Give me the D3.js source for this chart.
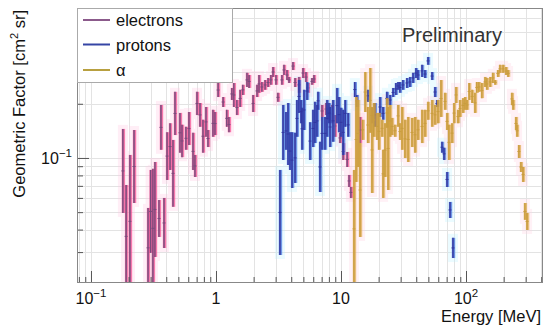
<!DOCTYPE html>
<html>
<head>
<meta charset="utf-8">
<script src="https://cdn.jsdelivr.net/npm/d3@7"></script>
<style>
body { margin: 0; background: #fff; }
svg text { font-family: "Liberation Sans", Arial, Helvetica, sans-serif; }
</style>
</head>
<body>
<svg id="chart" width="550" height="329"></svg>
<script>
// ---- data: energy [MeV], upper and lower edge of each error bar [cm^2 sr]
var eEnergy = [0.180, 0.191, 0.205, 0.221, 0.286, 0.300, 0.313, 0.325, 0.350, 0.363, 0.384, 0.406, 0.429, 0.453, 0.470,
  0.515, 0.535, 0.575, 0.608, 0.655, 0.679, 0.705, 0.745, 0.787, 0.832, 0.863, 0.946, 0.982, 1.04, 1.14, 1.22, 1.27,
  1.34, 1.39, 1.47, 1.56, 1.64, 1.77, 1.84, 1.98, 2.13, 2.21, 2.33, 2.47, 2.61, 2.75, 2.86, 3.02, 3.13, 3.37, 3.50,
  3.70, 3.84, 4.13, 4.29, 4.61, 4.97, 5.25, 5.44, 5.86, 6.08, 7.05, 7.59, 7.87, 8.47, 8.95, 9.82, 10.4, 11.2, 11.6,
  12.0, 14.2];
var eUpper = [0.145, 0.0708, 0.104, 0.143, 0.0528, 0.0858, 0.087, 0.095, 0.0584, 0.197, 0.060, 0.139, 0.156, 0.126, 0.233,
  0.178, 0.153, 0.149, 0.180, 0.138, 0.104, 0.233, 0.202, 0.163, 0.192, 0.143, 0.185, 0.180, 0.261, 0.218, 0.185, 0.169,
  0.245, 0.261, 0.210, 0.239, 0.255, 0.297, 0.289, 0.224, 0.255, 0.289, 0.264, 0.271, 0.278, 0.289, 0.320, 0.289, 0.230,
  0.289, 0.329, 0.308, 0.282, 0.341, 0.278, 0.282, 0.316, 0.300, 0.261, 0.278, 0.289, 0.197, 0.202, 0.190, 0.197, 0.173,
  0.138, 0.121, 0.108, 0.0805, 0.069, 0.169];
var eLower = [0.0495, 0.019, 0.019, 0.0562, 0.019, 0.0297, 0.019, 0.0282, 0.0364, 0.111, 0.0316, 0.0755, 0.0858, 0.0535, 0.134,
  0.107, 0.101, 0.111, 0.118, 0.0858, 0.0784, 0.173, 0.149, 0.107, 0.131, 0.115, 0.131, 0.134, 0.218, 0.192, 0.149, 0.139,
  0.210, 0.192, 0.173, 0.192, 0.224, 0.248, 0.245, 0.180, 0.218, 0.230, 0.233, 0.239, 0.248, 0.255, 0.282, 0.255, 0.205,
  0.255, 0.289, 0.271, 0.261, 0.308, 0.248, 0.230, 0.278, 0.264, 0.230, 0.255, 0.261, 0.169, 0.173, 0.163, 0.156, 0.131,
  0.121, 0.0975, 0.0891, 0.069, 0.060, 0.121];

var pEnergy = [3.25, 3.44, 3.63, 3.77, 3.91, 4.06, 4.29, 4.44, 4.61, 4.79, 4.88, 5.06, 5.35, 5.65, 5.97, 6.19, 6.43, 6.55,
  6.79, 7.05, 7.45, 7.73, 8.02, 8.17, 8.63, 9.29, 9.64, 10.0, 10.4, 10.8, 11.4, 12.9, 13.4, 16.4, 17.7, 18.7, 20.5, 21.7,
  23.3, 24.7, 26.1, 27.5, 28.6, 29.6, 31.3, 33.7, 35.6, 37.7, 39.8, 41.3, 44.5, 47.0, 49.7, 53.5, 56.5, 58.6, 64.3, 66.7,
  70.5, 74.5, 78.7];
var pUpper = [0.0858, 0.197, 0.180, 0.202, 0.139, 0.139, 0.138, 0.210, 0.271, 0.210, 0.190, 0.239, 0.264, 0.158, 0.185,
  0.205, 0.197, 0.233, 0.123, 0.169, 0.169, 0.210, 0.202, 0.192, 0.210, 0.245, 0.218, 0.190, 0.185, 0.210, 0.178, 0.264,
  0.224, 0.239, 0.190, 0.202, 0.218, 0.192, 0.233, 0.224, 0.245, 0.261, 0.264, 0.264, 0.271, 0.278, 0.282, 0.297, 0.316,
  0.308, 0.329, 0.308, 0.364, 0.300, 0.248, 0.210, 0.123, 0.114, 0.0836, 0.0570, 0.0360];
var pLower = [0.0289, 0.0975, 0.111, 0.0914, 0.0858, 0.0681, 0.0726, 0.131, 0.178, 0.156, 0.111, 0.143, 0.210, 0.0975, 0.115,
  0.121, 0.131, 0.185, 0.0647, 0.111, 0.111, 0.131, 0.156, 0.115, 0.123, 0.156, 0.139, 0.131, 0.104, 0.149, 0.131, 0.218,
  0.192, 0.205, 0.156, 0.149, 0.169, 0.163, 0.197, 0.197, 0.218, 0.224, 0.239, 0.230, 0.239, 0.245, 0.248, 0.261, 0.278,
  0.271, 0.282, 0.278, 0.329, 0.271, 0.218, 0.192, 0.107, 0.0975, 0.069, 0.0464, 0.0278];

var aEnergy = [12.7, 13.2, 13.7, 14.2, 14.9, 15.6, 16.4, 17.1, 17.7, 18.3, 19.4, 20.1, 21.3, 21.7, 22.5, 23.3, 23.8, 24.7,
  25.6, 27.0, 28.6, 29.6, 30.8, 32.5, 34.4, 37.0, 39.1, 41.3, 44.5, 47.0, 49.7, 53.5, 56.5, 59.7, 63.1, 67.9, 70.5, 73.0,
  77.3, 80.2, 83.2, 86.3, 89.5, 94.6, 98.2, 102, 106, 112, 118, 122, 127, 134, 142, 147, 156, 164, 171, 180, 187, 198,
  209, 217, 233, 238, 251, 256, 265, 275, 286, 296, 308];
var aUpper = [0.0858, 0.218, 0.210, 0.121, 0.163, 0.300, 0.192, 0.316, 0.192, 0.202, 0.178, 0.178, 0.163, 0.111, 0.156,
  0.215, 0.192, 0.197, 0.167, 0.153, 0.197, 0.156, 0.192, 0.163, 0.169, 0.167, 0.169, 0.163, 0.185, 0.185, 0.205, 0.210,
  0.197, 0.210, 0.271, 0.230, 0.178, 0.153, 0.156, 0.202, 0.248, 0.185, 0.210, 0.215, 0.218, 0.210, 0.261, 0.239, 0.230,
  0.264, 0.264, 0.261, 0.282, 0.278, 0.282, 0.297, 0.271, 0.308, 0.329, 0.329, 0.320, 0.308, 0.230, 0.210, 0.169, 0.153,
  0.118, 0.0950, 0.0891, 0.0562, 0.0495];
var aLower = [0.019, 0.0736, 0.0891, 0.0364, 0.126, 0.180, 0.121, 0.138, 0.0639, 0.131, 0.126, 0.111, 0.131, 0.060, 0.0784,
  0.147, 0.0664, 0.131, 0.134, 0.131, 0.149, 0.126, 0.111, 0.100, 0.095, 0.115, 0.107, 0.126, 0.121, 0.131, 0.163, 0.149,
  0.153, 0.156, 0.169, 0.185, 0.143, 0.0975, 0.121, 0.156, 0.202, 0.156, 0.169, 0.178, 0.185, 0.185, 0.210, 0.202, 0.178,
  0.230, 0.233, 0.215, 0.248, 0.239, 0.248, 0.261, 0.255, 0.282, 0.297, 0.297, 0.289, 0.282, 0.197, 0.185, 0.143, 0.131,
  0.100, 0.0836, 0.0736, 0.0453, 0.0398];

var seriesNames = ["electrons", "protons", "\u03b1"];
var xMajor = [0.1, 1, 10, 100];
var xLabelBase = ["10", "1", "10", "10"];
var xLabelExp = ["\u22121", "", "", "2"];
var yMajor = [0.1];
var yLabelBase = ["10"];
var yLabelExp = ["\u22121"];

// ---- layout
var frame = {x0: 77, x1: 543, y0: 8, y1: 283};
var x = d3.scaleLog().domain([0.0773, 413]).range([frame.x0, frame.x1]);
var y = d3.scaleLog().domain([0.0202, 0.681]).range([frame.y1, frame.y0]);

var styles = [
  {halo: "#ffc8e4", box: "#f23a84", line: "#7a4a7c", legend: "#8b5a8b"},
  {halo: "#c0f2ff", box: "#2f63d8", line: "#3236a0", legend: "#3545a5"},
  {halo: "#ffd3e3", box: "#dca23c", line: "#c99d3e", legend: "#b8a040"}
];

function zip(en, up, lo) {
  return en.map(function (e, i) { return {e: e, hi: up[i], lo: lo[i]}; });
}
var series = [zip(eEnergy, eUpper, eLower), zip(pEnergy, pUpper, pLower), zip(aEnergy, aUpper, aLower)];

var svg = d3.select("#chart");
svg.append("rect").attr("width", 550).attr("height", 329).attr("fill", "#fff");

svg.append("clipPath").attr("id", "plotclip").append("rect")
  .attr("x", frame.x0).attr("y", frame.y0)
  .attr("width", frame.x1 - frame.x0).attr("height", frame.y1 - frame.y0);

// grid
var grid = svg.append("g").attr("stroke", "#e3e3e3").attr("stroke-width", 1);
grid.selectAll(".gx").data(x.ticks()).enter().append("line")
  .attr("x1", function (d) { return Math.round(x(d)) + 0.5; })
  .attr("x2", function (d) { return Math.round(x(d)) + 0.5; })
  .attr("y1", frame.y0).attr("y2", frame.y1);
grid.selectAll(".gy").data(y.ticks()).enter().append("line")
  .attr("y1", function (d) { return Math.round(y(d)) + 0.5; })
  .attr("y2", function (d) { return Math.round(y(d)) + 0.5; })
  .attr("x1", frame.x0).attr("x2", frame.x1);

var plot = svg.append("g").attr("clip-path", "url(#plotclip)");

// soft halos first, for all series
series.forEach(function (pts, s) {
  plot.append("g").attr("fill", styles[s].halo).attr("opacity", 0.3)
    .selectAll("rect").data(pts).enter().append("rect")
    .attr("x", function (d) { return x(d.e) - 5; })
    .attr("width", 10)
    .attr("y", function (d) { return y(d.hi) - 4; })
    .attr("height", function (d) { return y(d.lo) - y(d.hi) + 8; });
});

// error boxes and bars
series.forEach(function (pts, s) {
  var g = plot.append("g");
  g.selectAll(".box").data(pts).enter().append("rect")
    .attr("fill", styles[s].box).attr("opacity", 0.65)
    .attr("x", function (d) { return x(d.e) - 1.2; })
    .attr("width", 3.4)
    .attr("y", function (d) { return y(d.hi); })
    .attr("height", function (d) { return y(d.lo) - y(d.hi); });
  g.selectAll(".bar").data(pts).enter().append("line")
    .attr("stroke", styles[s].line).attr("stroke-width", 1.5)
    .attr("x1", function (d) { return x(d.e); })
    .attr("x2", function (d) { return x(d.e); })
    .attr("y1", function (d) { return y(d.hi); })
    .attr("y2", function (d) { return y(d.lo); });
  g.selectAll(".mk").data(pts).enter().append("line")
    .attr("stroke", styles[s].line).attr("stroke-width", 1)
    .attr("x1", function (d) { return x(d.e) - 1.5; })
    .attr("x2", function (d) { return x(d.e) + 1.5; })
    .attr("y1", function (d) { return y(Math.sqrt(d.hi * d.lo)); })
    .attr("y2", function (d) { return y(Math.sqrt(d.hi * d.lo)); });
});

// axes (ticks inside the frame)
function isMajor(v) { return Math.abs(Math.log10(v) - Math.round(Math.log10(v))) < 1e-6; }
var axisColor = "#555";
function styleAxis(g) {
  g.selectAll("path").remove();
  g.selectAll("line").attr("stroke", axisColor);
}
svg.append("g").attr("transform", "translate(0," + frame.y1 + ")")
  .call(d3.axisBottom(x).tickValues(x.ticks().filter(function (v) { return !isMajor(v); }))
    .tickSize(-6).tickFormat(""))
  .call(styleAxis);
svg.append("g").attr("transform", "translate(0," + frame.y1 + ")")
  .call(d3.axisBottom(x).tickValues(xMajor).tickSize(-12).tickFormat(""))
  .call(styleAxis);
svg.append("g").attr("transform", "translate(" + frame.x0 + ",0)")
  .call(d3.axisLeft(y).tickValues(y.ticks().filter(function (v) { return !isMajor(v); }))
    .tickSize(-6).tickFormat(""))
  .call(styleAxis);
svg.append("g").attr("transform", "translate(" + frame.x0 + ",0)")
  .call(d3.axisLeft(y).tickValues(yMajor).tickSize(-12).tickFormat(""))
  .call(styleAxis);

svg.append("rect")
  .attr("x", frame.x0 + 0.5).attr("y", frame.y0 + 0.5)
  .attr("width", frame.x1 - frame.x0 - 1).attr("height", frame.y1 - frame.y0 - 1)
  .attr("fill", "none").attr("stroke", "#888").attr("stroke-width", 1);

// tick labels
xMajor.forEach(function (v, i) {
  var t = svg.append("text").attr("x", x(v)).attr("y", 304)
    .attr("text-anchor", "middle").attr("font-size", 16).attr("fill", "#111");
  t.append("tspan").text(xLabelBase[i]);
  if (xLabelExp[i]) t.append("tspan").attr("font-size", 11.5).attr("dy", -7).text(xLabelExp[i]);
});
yMajor.forEach(function (v, i) {
  var t = svg.append("text").attr("x", 72).attr("y", y(v) + 6)
    .attr("text-anchor", "end").attr("font-size", 16).attr("fill", "#111");
  t.append("tspan").text(yLabelBase[i]);
  if (yLabelExp[i]) t.append("tspan").attr("font-size", 11.5).attr("dy", -7).text(yLabelExp[i]);
});

// axis titles
svg.append("text").attr("x", 541).attr("y", 322).attr("text-anchor", "end")
  .attr("font-size", 16.5).attr("fill", "#111").text("Energy [MeV]");
var yt = svg.append("text").attr("transform", "translate(25,10) rotate(-90)")
  .attr("text-anchor", "end").attr("font-size", 16.5).attr("fill", "#111");
yt.append("tspan").text("Geometric Factor [cm");
yt.append("tspan").attr("font-size", 11).attr("dy", -7).text("2");
yt.append("tspan").attr("dy", 7).text(" sr]");

svg.append("text").attr("x", 402).attr("y", 42).attr("font-size", 20).attr("fill", "#333")
  .text("Preliminary");

// legend
var legend = svg.append("g");
legend.append("rect").attr("x", frame.x0 + 0.5).attr("y", frame.y0 + 0.5)
  .attr("width", 155).attr("height", 74)
  .attr("fill", "#fff").attr("stroke", "#aaa");
var legendY = [20, 44.5, 70];
seriesNames.forEach(function (name, i) {
  legend.append("line").attr("x1", 83).attr("x2", 110)
    .attr("y1", legendY[i]).attr("y2", legendY[i])
    .attr("stroke", styles[i].legend).attr("stroke-width", 2);
  legend.append("text").attr("x", 116).attr("y", legendY[i] + 6)
    .attr("font-size", 16.5).attr("fill", "#111").text(name);
});
</script>
</body>
</html>
